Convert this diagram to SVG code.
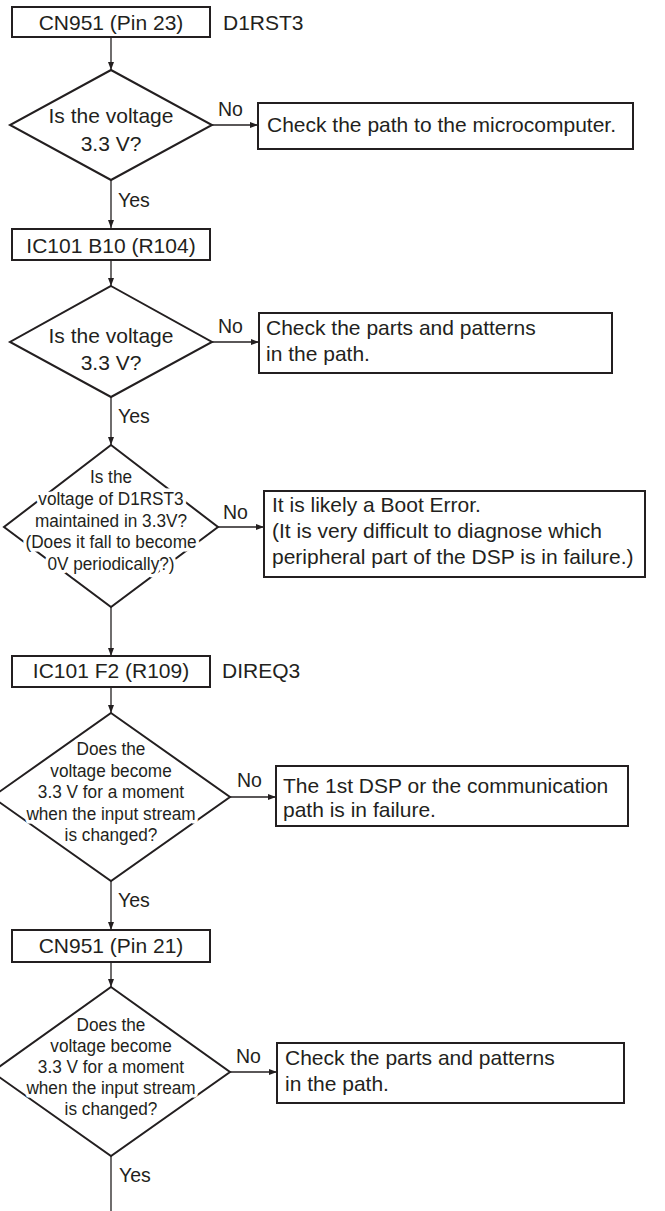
<svg xmlns="http://www.w3.org/2000/svg" width="665" height="1211" viewBox="0 0 665 1211">
<defs>
<style>
.bg{fill:#fff}
.box{fill:#fff;stroke:#231f20;stroke-width:2}
.dia{fill:#fff;stroke:#231f20;stroke-width:2;stroke-linejoin:miter}
.con{fill:none;stroke:#231f20;stroke-width:1.3}
.t{font-family:"Liberation Sans",Arial,Helvetica,sans-serif;fill:#231f20;font-size:21px}
.c{text-anchor:middle}
.lbl{font-family:"Liberation Sans",Arial,Helvetica,sans-serif;fill:#231f20;font-size:19.5px}
.dt{font-family:"Liberation Sans",Arial,Helvetica,sans-serif;fill:#231f20;font-size:18.5px;text-anchor:middle;stroke:#fff;stroke-width:7;stroke-linejoin:round;paint-order:stroke}
</style>
<marker id="ah" markerWidth="9" markerHeight="6" refX="8" refY="3" orient="auto" markerUnits="userSpaceOnUse">
<path d="M0,0 L8,3 L0,6 z" fill="#231f20"/>
</marker>
</defs>
<rect class="bg" x="0" y="0" width="665" height="1211"/>

<g id="connectors">
<line class="con" x1="111" y1="37" x2="111" y2="70" marker-end="url(#ah)"/>
<line class="con" x1="212" y1="125" x2="258" y2="125" marker-end="url(#ah)"/>
<line class="con" x1="111" y1="180" x2="111" y2="228" marker-end="url(#ah)"/>
<line class="con" x1="111" y1="260" x2="111" y2="286" marker-end="url(#ah)"/>
<line class="con" x1="212" y1="342" x2="259" y2="342" marker-end="url(#ah)"/>
<line class="con" x1="111" y1="397" x2="111" y2="445" marker-end="url(#ah)"/>
<line class="con" x1="218" y1="527" x2="264" y2="527" marker-end="url(#ah)"/>
<line class="con" x1="111" y1="607" x2="111" y2="656" marker-end="url(#ah)"/>
<line class="con" x1="111" y1="687" x2="111" y2="713" marker-end="url(#ah)"/>
<line class="con" x1="230" y1="797" x2="276" y2="797" marker-end="url(#ah)"/>
<line class="con" x1="111" y1="881" x2="111" y2="930" marker-end="url(#ah)"/>
<line class="con" x1="111" y1="962" x2="111" y2="987" marker-end="url(#ah)"/>
<line class="con" x1="230" y1="1072" x2="277" y2="1072" marker-end="url(#ah)"/>
<line class="con" x1="111" y1="1156" x2="111" y2="1211"/>
<text class="lbl" x="218" y="116">No</text>
<text class="lbl" x="118" y="207">Yes</text>
<text class="lbl" x="218" y="333">No</text>
<text class="lbl" x="118" y="423">Yes</text>
<text class="lbl" x="223" y="519">No</text>
<text class="lbl" x="237" y="787">No</text>
<text class="lbl" x="118" y="907">Yes</text>
<text class="lbl" x="236" y="1063">No</text>
<text class="lbl" x="119" y="1182">Yes</text>
</g>

<g id="n1">
<rect class="box" x="12" y="7" width="198" height="30"/>
<text class="t c" x="111" y="30">CN951 (Pin 23)</text>
<text class="t" x="223" y="30">D1RST3</text>
</g>

<g id="d1">
<polygon class="dia" points="111,70 212,125 111,180 10,125"/>
<text class="t c" x="111" y="123">Is the voltage</text>
<text class="t c" x="111" y="151">3.3 V?</text>
</g>

<g id="n2">
<rect class="box" x="258" y="103" width="375" height="46"/>
<text class="t" x="267" y="132">Check the path to the microcomputer.</text>
</g>

<g id="n3">
<rect class="box" x="12" y="229" width="198" height="31"/>
<text class="t c" x="111" y="253">IC101 B10 (R104)</text>
</g>

<g id="d2">
<polygon class="dia" points="111,286 212,342 111,397 10,342"/>
<text class="t c" x="111" y="343">Is the voltage</text>
<text class="t c" x="111" y="370">3.3 V?</text>
</g>

<g id="n4">
<rect class="box" x="259" y="313" width="353" height="60"/>
<text class="t" x="266" y="335">Check the parts and patterns</text>
<text class="t" x="266" y="361">in the path.</text>
</g>

<g id="d3">
<polygon class="dia" points="111,445 218,527 111,607 4,527"/>
<g transform="translate(111 0) scale(0.93 1)">
<text class="dt" x="0" y="483.5">Is the</text>
<text class="dt" x="0" y="505.5">voltage of D1RST3</text>
<text class="dt" x="0" y="527">maintained in 3.3V?</text>
<text class="dt" x="0" y="548.5">(Does it fall to become</text>
<text class="dt" x="0" y="570">0V periodically?)</text>
</g>
</g>

<g id="n5">
<rect class="box" x="264" y="491" width="381" height="86"/>
<text class="t" x="272" y="512">It is likely a Boot Error.</text>
<text class="t" x="272" y="538">(It is very difficult to diagnose which</text>
<text class="t" x="272" y="564">peripheral part of the DSP is in failure.)</text>
</g>

<g id="n6">
<rect class="box" x="12" y="656" width="198" height="31"/>
<text class="t c" x="111" y="678">IC101 F2 (R109)</text>
<text class="t" x="222" y="678">DIREQ3</text>
</g>

<g id="d4">
<polygon class="dia" points="111,713 230,797 111,881 -8,797"/>
<g transform="translate(111 0) scale(0.93 1)">
<text class="dt" x="0" y="755">Does the</text>
<text class="dt" x="0" y="777">voltage become</text>
<text class="dt" x="0" y="798">3.3 V for a moment</text>
<text class="dt" x="0" y="820">when the input stream</text>
<text class="dt" x="0" y="841">is changed?</text>
</g>
</g>

<g id="n7">
<rect class="box" x="276" y="766" width="352" height="60"/>
<text class="t" x="283" y="793">The 1st DSP or the communication</text>
<text class="t" x="283" y="817">path is in failure.</text>
</g>

<g id="n8">
<rect class="box" x="12" y="930" width="198" height="32"/>
<text class="t c" x="111" y="953">CN951 (Pin 21)</text>
</g>

<g id="d5">
<polygon class="dia" points="111,987 230,1072 111,1156 -8,1072"/>
<g transform="translate(111 0) scale(0.93 1)">
<text class="dt" x="0" y="1031">Does the</text>
<text class="dt" x="0" y="1052">voltage become</text>
<text class="dt" x="0" y="1073">3.3 V for a moment</text>
<text class="dt" x="0" y="1094">when the input stream</text>
<text class="dt" x="0" y="1115.5">is changed?</text>
</g>
</g>

<g id="n9">
<rect class="box" x="277" y="1043" width="347" height="60"/>
<text class="t" x="285" y="1065">Check the parts and patterns</text>
<text class="t" x="285" y="1091">in the path.</text>
</g>
</svg>
